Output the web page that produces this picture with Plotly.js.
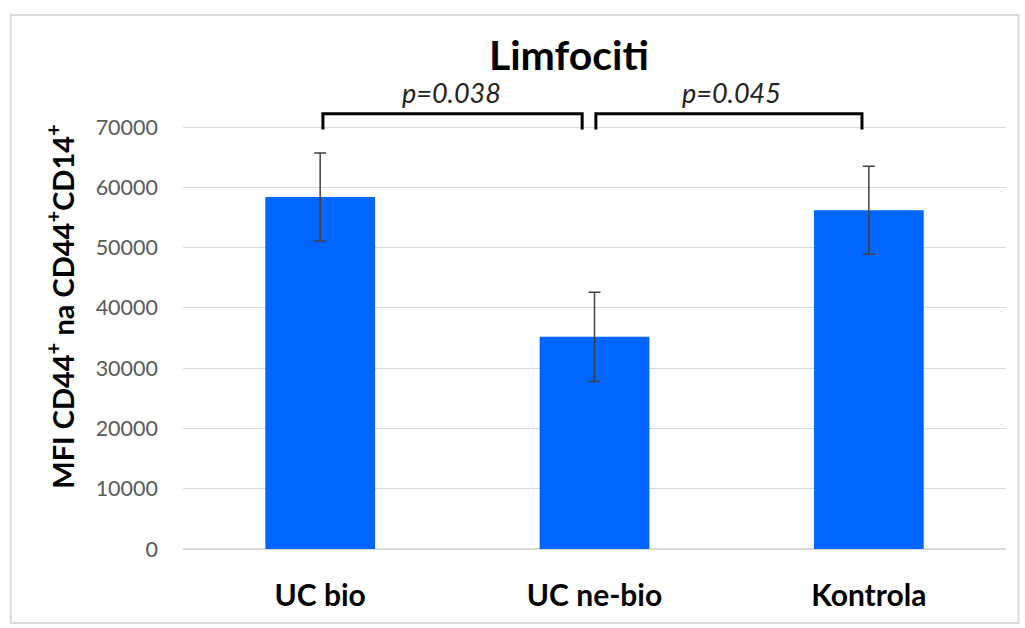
<!DOCTYPE html>
<html>
<head>
<meta charset="utf-8">
<script src="https://cdn.plot.ly/plotly-3.0.1.min.js"></script>
<style>html,body{margin:0;padding:0;background:#fff;}#chart{width:1025px;height:628px;}</style>
</head>
<body>
<div id="chart"></div>
<script>
const categories = ["UC bio", "UC ne-bio", "Kontrola"];
const meanValues = [58400, 35200, 56200];
const errorValues = [7300, 7400, 7300];
const yTickValues = [0, 10000, 20000, 30000, 40000, 50000, 60000, 70000];
const comparisons = [
  {from: 0, to: 1, label: "p=0.038", labelX: 0.48},
  {from: 1, to: 2, label: "p=0.045", labelX: 1.5}
];

const bracketY = 72200, legY = 69600;
const shapes = [];
const annotations = [];
comparisons.forEach((c, i) => {
  const x0 = c.from + (i === 0 ? 0.01 : 0.005);
  const x1 = c.to - (i === 0 ? 0.045 : 0.025);
  shapes.push({type: 'path', xref: 'x', yref: 'y',
    path: `M ${x0} ${legY} L ${x0} ${bracketY} L ${x1} ${bracketY} L ${x1} ${legY}`,
    line: {color: '#000', width: 3}});
  annotations.push({xref: 'x', yref: 'paper', x: c.labelX, y: 1.0, yanchor: 'bottom', yshift: -2,
    text: '<i>' + c.label + '</i>', showarrow: false,
    font: {family: 'Lato, sans-serif', size: 27, color: '#222'}});
});
// y axis title as rotated annotation
annotations.push({xref: 'paper', yref: 'paper', x: -0.1487, y: 0.552, xanchor: 'center', yanchor: 'middle',
  textangle: -90, showarrow: false,
  text: '<b>MFI CD44<sup>+</sup> na CD44<sup>+</sup>CD14<sup>+</sup></b>',
  font: {family: 'Lato, sans-serif', size: 29, color: '#000'}});
// outer border
shapes.push({type: 'rect', xref: 'paper', yref: 'paper', x0: -0.2093, x1: 1.0152, y0: -0.168, y1: 1.2136,
  line: {color: '#d9d9d9', width: 2}, layer: 'below'});

const trace = {
  type: 'bar', x: categories, y: meanValues, width: 0.4,
  marker: {color: '#0066ff'},
  error_y: {type: 'data', array: errorValues, visible: true, color: '#404040', thickness: 1.5, width: 6}
};

const layout = {
  width: 1025, height: 628,
  margin: {l: 182.5, r: 18.5, t: 109, b: 79},
  paper_bgcolor: '#fff', plot_bgcolor: '#fff',
  showlegend: false,
  title: {text: '<b>Limfociti</b>', x: 0.555, xanchor: 'center', xref: 'container', y: 0.912, yanchor: 'middle', yref: 'container',
    font: {family: 'Lato, sans-serif', size: 41, color: '#000'}},
  xaxis: {type: 'category', range: [-0.5, 2.5], showgrid: false, zeroline: false, showline: false, ticks: '',
    tickfont: {family: 'Lato, sans-serif', size: 30, color: '#000', weight: 'bold'}, ticklabelstandoff: 26},
  yaxis: {range: [0, 73000], tickvals: yTickValues, ticktext: yTickValues.map(String),
    showgrid: true, gridcolor: '#d9d9d9', gridwidth: 1, zeroline: true, zerolinecolor: '#d9d9d9', zerolinewidth: 1.5,
    showline: false, ticks: '', ticklabelstandoff: 24,
    tickfont: {family: 'Lato, sans-serif', size: 21.5, color: '#595959'}},
  shapes: shapes,
  annotations: annotations
};

Plotly.newPlot('chart', [trace], layout, {displayModeBar: false, staticPlot: true});
</script>
</body>
</html>
